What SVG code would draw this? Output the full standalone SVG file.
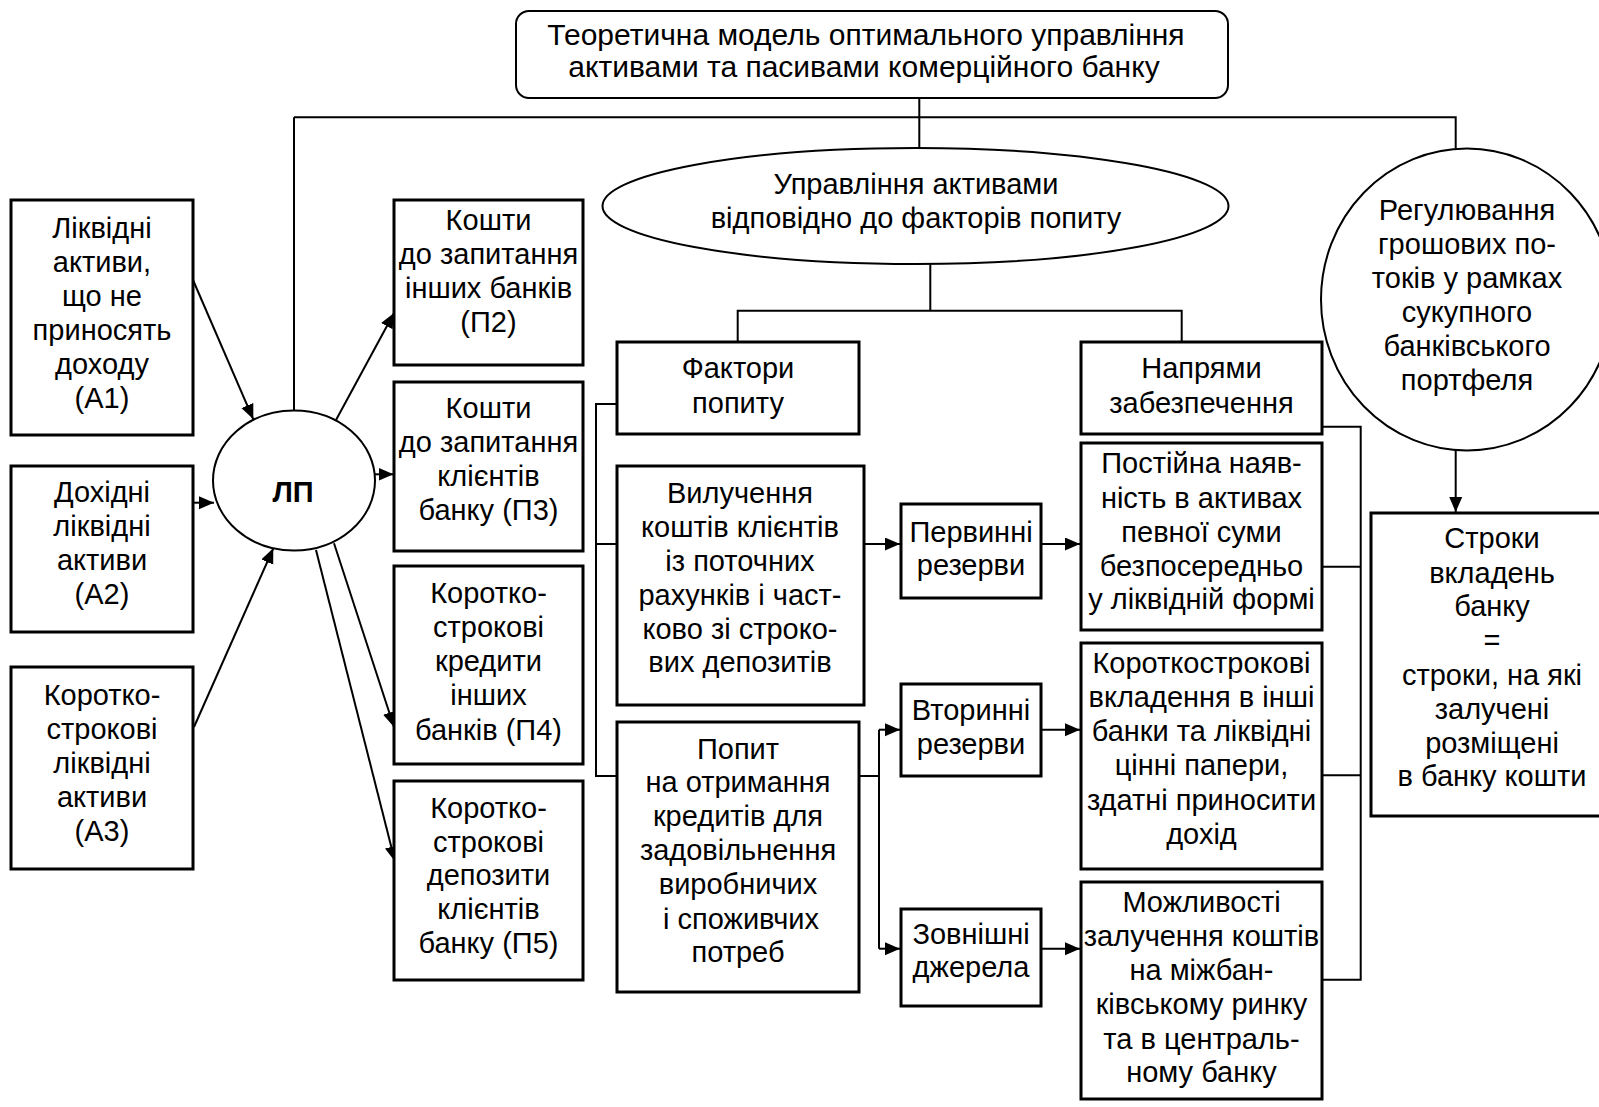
<svg xmlns="http://www.w3.org/2000/svg" width="1599" height="1107" viewBox="0 0 1599 1107">
<defs>
<marker id="arr" markerUnits="userSpaceOnUse" markerWidth="16" markerHeight="14" refX="15" refY="6.5" orient="auto">
<path d="M0,0 L15,6.5 L0,13 z" fill="#000"/>
</marker>
<style>
text{font-family:"Liberation Sans",Arial,sans-serif;font-size:29px;fill:#000;text-anchor:middle}
.t{font-size:30px}
.b{fill:#fff;stroke:#000;stroke-width:3}
.e{fill:#fff;stroke:#000;stroke-width:2}
.c{fill:none;stroke:#000;stroke-width:2}
.a{fill:none;stroke:#000;stroke-width:2;marker-end:url(#arr)}
.bold{font-weight:bold}
</style>
</defs>
<rect width="1599" height="1107" fill="#fff"/>
<g id="connectors">
<path class="c" d="M919.3,98 V148 M294,117.3 H1455.7 V148.3 M294,117.3 V410.7"/>
<path class="c" d="M930.3,264 V310.7 M737.7,342 V310.7 H1181.7 V342"/>
<path class="c" d="M617,404 H596 V776 H617 M596,544 H617"/>
<path class="c" d="M1322,426.7 H1360.7 V979.7 H1322 M1322,566.7 H1360.7 M1322,775.3 H1360.7"/>
<path class="c" d="M859,776 H879 M879,729.7 V948.7"/>
<path class="a" d="M879,729.7 H900"/>
<path class="a" d="M879,948.7 H900"/>
<path class="a" d="M864,544 H900"/>
<path class="a" d="M1041,544 H1080"/>
<path class="a" d="M1041,729.7 H1080"/>
<path class="a" d="M1041,948.7 H1080"/>
<path class="a" d="M1455.7,450.7 V512"/>
<path class="a" d="M193,280 L253.3,419.3"/>
<path class="a" d="M193,502.7 H214"/>
<path class="a" d="M194,727 L273.3,548.3"/>
<path class="a" d="M336,420 L394,313"/>
<path class="a" d="M375,474.3 H393.5"/>
<path class="a" d="M334,543.3 L394,727"/>
<path class="a" d="M316,550 L395,861.5"/>
</g>
<g id="title">
<rect x="516" y="11" width="712" height="87" rx="13" ry="13" class="e"/>
<text class="t" x="866" y="45">Теоретична модель оптимального управління</text>
<text class="t" x="864" y="77">активами та пасивами комерційного банку</text>
</g>
<g id="asset-mgmt">
<ellipse cx="915.5" cy="206" rx="313" ry="58" class="e"/>
<text x="916" y="194">Управління активами</text>
<text x="916" y="228">відповідно до факторів попиту</text>
</g>
<g id="regulation">
<ellipse cx="1467" cy="299.5" rx="146" ry="151" class="e"/>
<text x="1467" y="220">Регулювання</text>
<text x="1467" y="254">грошових по-</text>
<text x="1467" y="288">токів у рамках</text>
<text x="1467" y="322">сукупного</text>
<text x="1467" y="356">банківського</text>
<text x="1467" y="390">портфеля</text>
</g>
<g id="lp">
<ellipse cx="294" cy="480.5" rx="81" ry="70" class="e"/>
<text x="293" y="502" class="bold">ЛП</text>
</g>
<g id="a1">
<rect x="11" y="200" width="182" height="235" class="b"/>
<text x="102" y="238">Ліквідні</text>
<text x="102" y="272">активи,</text>
<text x="102" y="306">що не</text>
<text x="102" y="340">приносять</text>
<text x="102" y="374">доходу</text>
<text x="102" y="408">(А1)</text>
</g>
<g id="a2">
<rect x="11" y="466" width="182" height="166" class="b"/>
<text x="102" y="502">Дохідні</text>
<text x="102" y="536">ліквідні</text>
<text x="102" y="570">активи</text>
<text x="102" y="604">(А2)</text>
</g>
<g id="a3">
<rect x="11" y="667" width="182" height="202" class="b"/>
<text x="102" y="705">Коротко-</text>
<text x="102" y="739">строкові</text>
<text x="102" y="773">ліквідні</text>
<text x="102" y="807">активи</text>
<text x="102" y="841">(А3)</text>
</g>
<g id="p2">
<rect x="394" y="200" width="189" height="165" class="b"/>
<text x="488.5" y="230">Кошти</text>
<text x="488.5" y="264">до запитання</text>
<text x="488.5" y="298">інших банків</text>
<text x="488.5" y="332">(П2)</text>
</g>
<g id="p3">
<rect x="394" y="382" width="189" height="169" class="b"/>
<text x="488.5" y="418">Кошти</text>
<text x="488.5" y="452">до запитання</text>
<text x="488.5" y="486">клієнтів</text>
<text x="488.5" y="520">банку (П3)</text>
</g>
<g id="p4">
<rect x="394" y="566" width="189" height="198" class="b"/>
<text x="488.5" y="603">Коротко-</text>
<text x="488.5" y="637">строкові</text>
<text x="488.5" y="671">кредити</text>
<text x="488.5" y="705">інших</text>
<text x="488.5" y="740">банків (П4)</text>
</g>
<g id="p5">
<rect x="394" y="781" width="189" height="199" class="b"/>
<text x="488.5" y="818">Коротко-</text>
<text x="488.5" y="852">строкові</text>
<text x="488.5" y="885">депозити</text>
<text x="488.5" y="919">клієнтів</text>
<text x="488.5" y="953">банку (П5)</text>
</g>
<g id="demand-factors">
<rect x="617" y="342" width="242" height="92" class="b"/>
<text x="738" y="378">Фактори</text>
<text x="738" y="413">попиту</text>
</g>
<g id="withdrawal">
<rect x="617" y="466" width="247" height="239" class="b"/>
<text x="740" y="503">Вилучення</text>
<text x="740" y="537">коштів клієнтів</text>
<text x="740" y="571">із поточних</text>
<text x="740" y="605">рахунків і част-</text>
<text x="740" y="639">ково зі строко-</text>
<text x="740" y="672">вих депозитів</text>
</g>
<g id="credit-demand">
<rect x="617" y="722" width="242" height="270" class="b"/>
<text x="738" y="759">Попит</text>
<text x="738" y="792">на отримання</text>
<text x="738" y="826">кредитів для</text>
<text x="738" y="860">задовільнення</text>
<text x="738" y="894">виробничих</text>
<text x="741" y="929">і споживчих</text>
<text x="738" y="962">потреб</text>
</g>
<g id="primary">
<rect x="901" y="504" width="140" height="94" class="b"/>
<text x="971" y="542">Первинні</text>
<text x="971" y="575">резерви</text>
</g>
<g id="secondary">
<rect x="901" y="684" width="140" height="92" class="b"/>
<text x="971" y="720">Вторинні</text>
<text x="971" y="754">резерви</text>
</g>
<g id="external">
<rect x="901" y="909" width="140" height="97" class="b"/>
<text x="971" y="944">Зовнішні</text>
<text x="971" y="977">джерела</text>
</g>
<g id="directions">
<rect x="1081" y="342" width="241" height="92" class="b"/>
<text x="1201.5" y="378">Напрями</text>
<text x="1201.5" y="413">забезпечення</text>
</g>
<g id="constant">
<rect x="1081" y="443" width="241" height="187" class="b"/>
<text x="1201.5" y="473">Постійна наяв-</text>
<text x="1201.5" y="508">ність в активах</text>
<text x="1201.5" y="542">певної суми</text>
<text x="1201.5" y="576">безпосередньо</text>
<text x="1201.5" y="609">у ліквідній формі</text>
</g>
<g id="short-term">
<rect x="1081" y="643" width="241" height="226" class="b"/>
<text x="1201.5" y="673">Короткострокові</text>
<text x="1201.5" y="707">вкладення в інші</text>
<text x="1201.5" y="741">банки та ліквідні</text>
<text x="1201.5" y="775">цінні папери,</text>
<text x="1201.5" y="810">здатні приносити</text>
<text x="1201.5" y="844">дохід</text>
</g>
<g id="opportunities">
<rect x="1081" y="882" width="241" height="217" class="b"/>
<text x="1201.5" y="912">Можливості</text>
<text x="1201.5" y="946">залучення коштів</text>
<text x="1201.5" y="980">на міжбан-</text>
<text x="1201.5" y="1014">ківському ринку</text>
<text x="1201.5" y="1049">та в централь-</text>
<text x="1201.5" y="1082">ному банку</text>
</g>
<g id="terms">
<rect x="1371" y="513" width="242" height="303" class="b"/>
<text x="1492" y="548">Строки</text>
<text x="1492" y="583">вкладень</text>
<text x="1492" y="616">банку</text>
<text x="1492" y="650">=</text>
<text x="1492" y="685">строки, на які</text>
<text x="1492" y="719">залучені</text>
<text x="1492" y="753">розміщені</text>
<text x="1492" y="786">в банку кошти</text>
</g>
</svg>
